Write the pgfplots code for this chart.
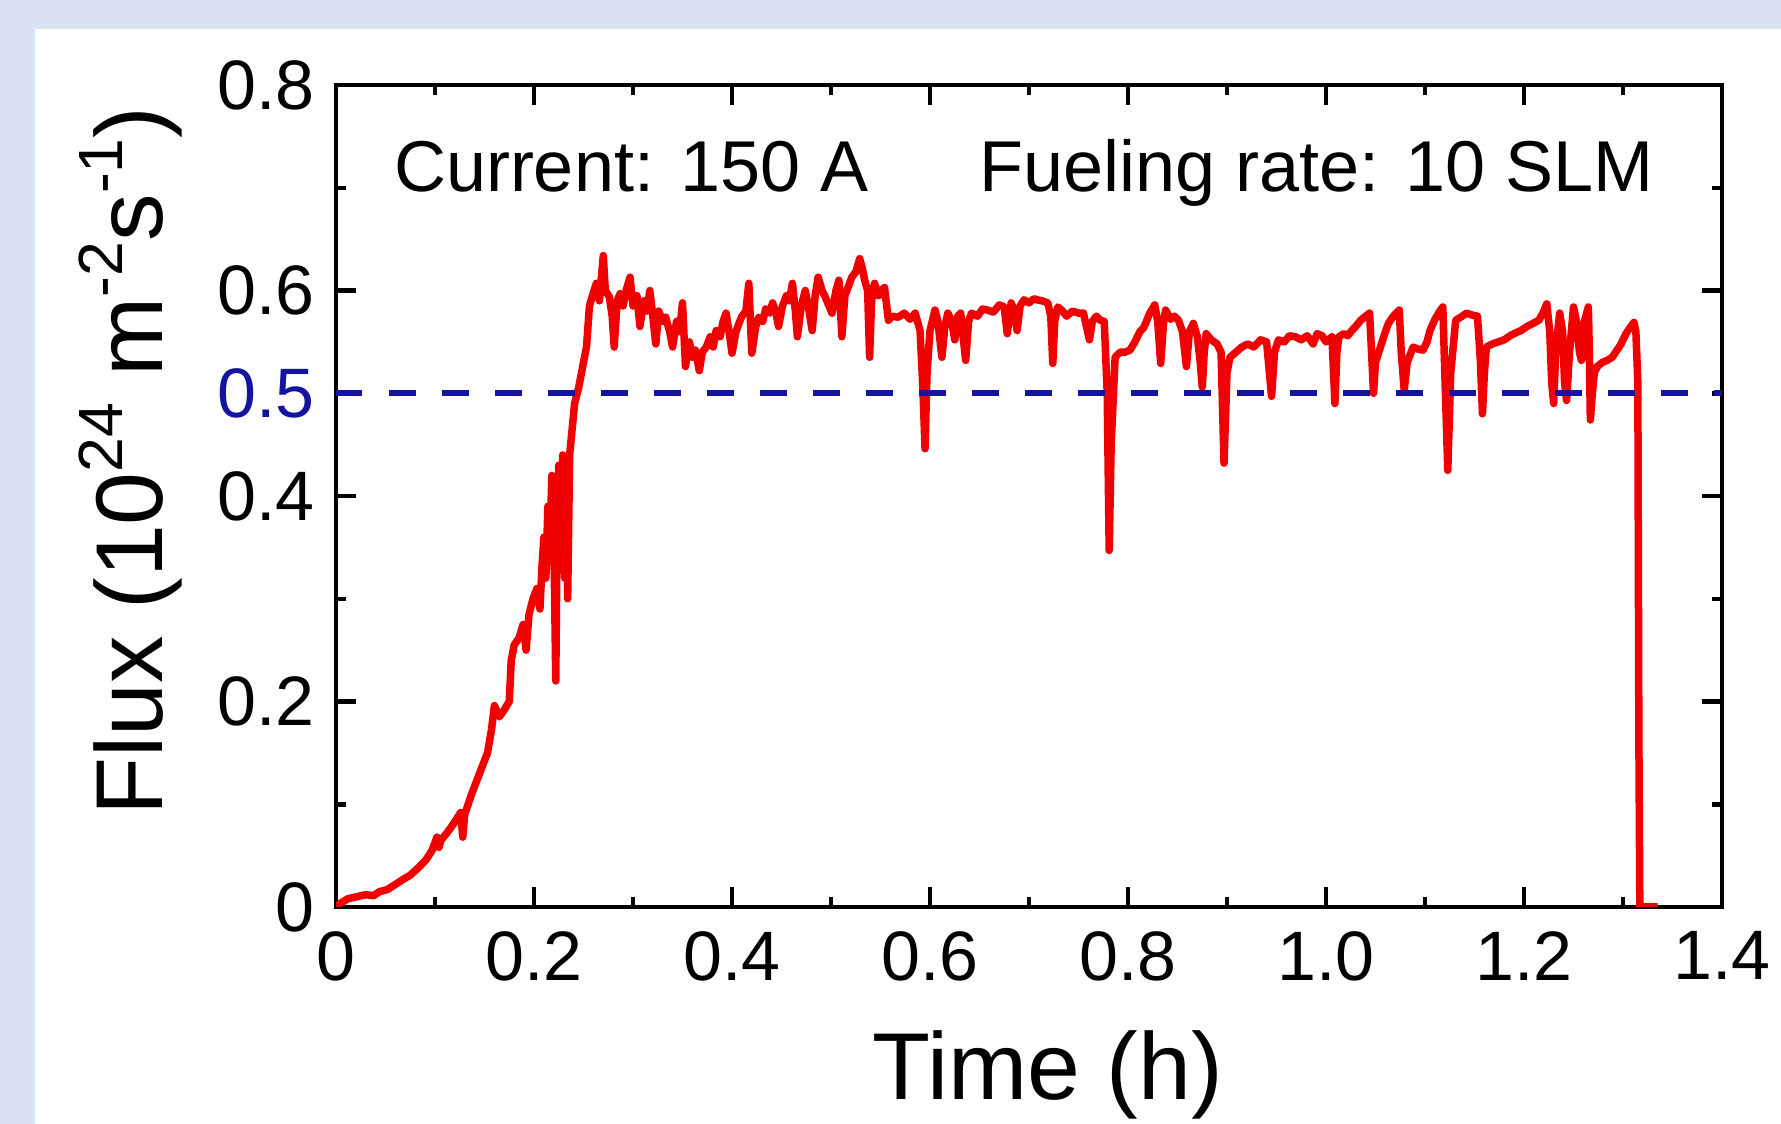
\documentclass[border=0pt]{standalone}
\usepackage{fontspec}
\setmainfont{Liberation Sans}
\usepackage{pgfplots}
\pgfplotsset{compat=1.18}
\definecolor{bgblue}{HTML}{DAE3F3}
\definecolor{fluxred}{RGB}{240,0,0}
\definecolor{refblue}{RGB}{20,20,160}
\newcommand{\sups}[1]{\raisebox{0.42em}{\fontsize{12.5}{12.5}\selectfont #1}}

\begin{document}
\begin{tikzpicture}[x=1pt,y=1pt]
% frame: 1 px of the reference = 0.2pt, origin at the axis corner
\fill[bgblue] (-67.2,-43.4) rectangle (289,181.4);
\fill[white] (-60.2,-43.4) rectangle (289,175.6);
\useasboundingbox (-67.2,-43.4) rectangle (289,181.4);
\begin{axis}[
    at={(0,0)}, anchor=south west,
    width=277.2pt, height=164.4pt,
    scale only axis,
    xmin=0, xmax=1.4,
    ymin=0, ymax=0.8,
    axis line style={line width=0.9pt},
    every tick/.style={black, line width=0.9pt},
    major tick length=4pt,
    minor tick length=2pt,
    tick align=inside,
    xtick={0,0.2,0.4,0.6,0.8,1.0,1.2,1.4},
    xticklabels={0,0.2,0.4,0.6,0.8,1.0,1.2,1.4},
    minor x tick num=1,
    ytick={0,0.2,0.4,0.6,0.8},
    yticklabels={0,0.2,0.4,0.6,0.8},
    minor y tick num=1,
    extra y ticks={0.5},
    extra y tick labels={0.5},
    extra y tick style={major tick length=0pt, yticklabel style={text=refblue}},
    every tick label/.append style={font=\fontsize{14}{14}\selectfont},
    xticklabel style={yshift=-1.3pt},
    yticklabel style={xshift=-0.7pt},
    label style={font=\fontsize{19}{19}\selectfont},
    xlabel={Time (h)},
    xlabel style={at={(axis description cs:0.5137,-0.2348)}, anchor=base},
    ylabel={Flux (10\sups{24} m\sups{-2}s\sups{-1})},
    ylabel style={at={(axis description cs:-0.1255,0.5426)}, rotate=0, anchor=base},
]
\addplot[fluxred, line width=1.5pt, line join=round] coordinates {
(0,0) (0.005,0.004) (0.012,0.008) (0.021,0.010) (0.030,0.012) (0.038,0.011)
(0.044,0.015) (0.052,0.017) (0.060,0.022) (0.068,0.027) (0.075,0.031) (0.083,0.038)
(0.091,0.046) (0.097,0.055) (0.102,0.068) (0.104,0.058) (0.106,0.065) (0.112,0.072)
(0.118,0.080) (0.122,0.086) (0.126,0.092) (0.128,0.068) (0.130,0.090) (0.137,0.110)
(0.145,0.130) (0.153,0.150) (0.157,0.172) (0.160,0.196) (0.165,0.185) (0.170,0.192)
(0.175,0.200) (0.177,0.240) (0.180,0.255) (0.185,0.262) (0.189,0.275) (0.192,0.250)
(0.195,0.285) (0.199,0.300) (0.203,0.310) (0.206,0.290) (0.208,0.330) (0.210,0.360)
(0.212,0.320) (0.214,0.390) (0.216,0.350) (0.218,0.420) (0.220,0.360) (0.222,0.220)
(0.2235,0.380) (0.225,0.430) (0.227,0.340) (0.229,0.440) (0.231,0.320) (0.233,0.410)
(0.234,0.300) (0.236,0.440) (0.238,0.460) (0.241,0.490) (0.245,0.505) (0.250,0.530)
(0.253,0.545) (0.256,0.585) (0.260,0.598) (0.263,0.607) (0.266,0.590) (0.270,0.634)
(0.272,0.600) (0.276,0.594) (0.279,0.575) (0.281,0.545) (0.284,0.590) (0.287,0.597)
(0.290,0.585) (0.293,0.600) (0.297,0.613) (0.300,0.585) (0.304,0.595) (0.307,0.565)
(0.311,0.590) (0.314,0.580) (0.317,0.600) (0.320,0.575) (0.323,0.548) (0.326,0.580)
(0.330,0.570) (0.333,0.574) (0.337,0.560) (0.340,0.545) (0.344,0.570) (0.347,0.560)
(0.350,0.588) (0.353,0.526) (0.357,0.550) (0.360,0.535) (0.363,0.542) (0.367,0.522)
(0.370,0.540) (0.374,0.545) (0.378,0.555) (0.381,0.545) (0.384,0.561) (0.388,0.555)
(0.391,0.570) (0.394,0.578) (0.397,0.560) (0.400,0.539) (0.404,0.560) (0.407,0.568)
(0.410,0.575) (0.414,0.580) (0.417,0.607) (0.420,0.539) (0.424,0.565) (0.427,0.574)
(0.431,0.570) (0.434,0.582) (0.438,0.578) (0.441,0.588) (0.444,0.580) (0.447,0.565)
(0.451,0.585) (0.455,0.595) (0.458,0.590) (0.461,0.607) (0.464,0.580) (0.466,0.555)
(0.470,0.585) (0.474,0.600) (0.477,0.585) (0.481,0.561) (0.484,0.595) (0.487,0.613)
(0.491,0.600) (0.494,0.594) (0.498,0.585) (0.501,0.578) (0.505,0.600) (0.508,0.610)
(0.511,0.555) (0.514,0.595) (0.518,0.605) (0.521,0.613) (0.525,0.618) (0.529,0.631)
(0.532,0.620) (0.534,0.610) (0.537,0.600) (0.539,0.535) (0.541,0.590) (0.544,0.607)
(0.548,0.595) (0.551,0.600) (0.554,0.603) (0.558,0.571) (0.562,0.575) (0.568,0.574)
(0.574,0.578) (0.580,0.572) (0.585,0.578) (0.590,0.561) (0.593,0.500) (0.595,0.446)
(0.597,0.520) (0.600,0.561) (0.605,0.581) (0.608,0.570) (0.612,0.535) (0.615,0.565)
(0.618,0.578) (0.622,0.570) (0.625,0.552) (0.628,0.575) (0.631,0.578) (0.636,0.532)
(0.639,0.570) (0.642,0.578) (0.648,0.575) (0.653,0.582) (0.658,0.581) (0.664,0.579)
(0.670,0.586) (0.675,0.584) (0.678,0.558) (0.682,0.588) (0.685,0.580) (0.688,0.561)
(0.691,0.585) (0.695,0.591) (0.700,0.588) (0.705,0.592) (0.708,0.591) (0.713,0.590)
(0.719,0.588) (0.722,0.575) (0.724,0.529) (0.726,0.570) (0.729,0.584) (0.733,0.581)
(0.738,0.575) (0.744,0.580) (0.750,0.578) (0.755,0.578) (0.758,0.565) (0.761,0.552)
(0.764,0.570) (0.768,0.575) (0.772,0.571) (0.776,0.570) (0.779,0.500) (0.781,0.347)
(0.783,0.450) (0.787,0.535) (0.792,0.540) (0.797,0.540) (0.802,0.542) (0.807,0.550)
(0.812,0.560) (0.816,0.564) (0.822,0.578) (0.827,0.586) (0.830,0.570) (0.833,0.529)
(0.836,0.570) (0.838,0.581) (0.843,0.572) (0.847,0.575) (0.851,0.571) (0.855,0.560)
(0.859,0.526) (0.862,0.560) (0.866,0.568) (0.870,0.555) (0.873,0.530) (0.875,0.506)
(0.877,0.540) (0.879,0.558) (0.884,0.552) (0.890,0.548) (0.894,0.540) (0.897,0.432)
(0.900,0.520) (0.903,0.535) (0.909,0.540) (0.915,0.545) (0.921,0.548) (0.927,0.545)
(0.934,0.552) (0.940,0.550) (0.945,0.497) (0.948,0.540) (0.952,0.552) (0.958,0.550)
(0.963,0.556) (0.969,0.555) (0.975,0.552) (0.981,0.556) (0.987,0.548) (0.991,0.558)
(0.996,0.556) (1.000,0.550) (1.006,0.555) (1.009,0.490) (1.011,0.540) (1.013,0.555)
(1.018,0.558) (1.022,0.556) (1.026,0.561) (1.030,0.565) (1.035,0.571) (1.040,0.575)
(1.044,0.578) (1.046,0.540) (1.048,0.500) (1.050,0.530) (1.055,0.545) (1.060,0.560)
(1.063,0.568) (1.068,0.575) (1.074,0.581) (1.076,0.540) (1.079,0.503) (1.082,0.530)
(1.088,0.545) (1.093,0.543) (1.098,0.542) (1.102,0.550) (1.105,0.561) (1.110,0.572)
(1.115,0.580) (1.118,0.584) (1.120,0.520) (1.123,0.425) (1.126,0.520) (1.131,0.571)
(1.136,0.574) (1.142,0.578) (1.148,0.576) (1.153,0.575) (1.156,0.530) (1.158,0.480)
(1.160,0.520) (1.162,0.545) (1.168,0.548) (1.174,0.550) (1.180,0.552) (1.186,0.556)
(1.192,0.559) (1.197,0.561) (1.203,0.565) (1.209,0.568) (1.215,0.571) (1.219,0.578)
(1.223,0.587) (1.226,0.560) (1.228,0.510) (1.230,0.490) (1.232,0.540) (1.236,0.578)
(1.239,0.560) (1.241,0.510) (1.243,0.493) (1.246,0.540) (1.250,0.584) (1.253,0.570)
(1.256,0.540) (1.258,0.532) (1.261,0.570) (1.265,0.584) (1.266,0.540) (1.267,0.474)
(1.269,0.500) (1.271,0.520) (1.274,0.526) (1.279,0.530) (1.284,0.532) (1.289,0.535)
(1.294,0.542) (1.298,0.548) (1.303,0.558) (1.308,0.565) (1.311,0.569) (1.313,0.560)
(1.315,0.510) (1.316,0.170) (1.317,0.000) (1.325,0.000) (1.335,0.000)
};
\addplot[refblue, line width=1.2pt, dash pattern=on 5.3pt off 5.3pt] coordinates {(0,0.5) (1.4,0.5)};
\node[anchor=base west, inner sep=0pt, font=\fontsize{14.4}{14.4}\selectfont] at (axis cs:0.0576,0.696) {Current: 150 A};
\node[anchor=base west, inner sep=0pt, font=\fontsize{14.4}{14.4}\selectfont] at (axis cs:0.6485,0.696) {Fueling rate: 10 SLM};
\end{axis}
\end{tikzpicture}
\end{document}
